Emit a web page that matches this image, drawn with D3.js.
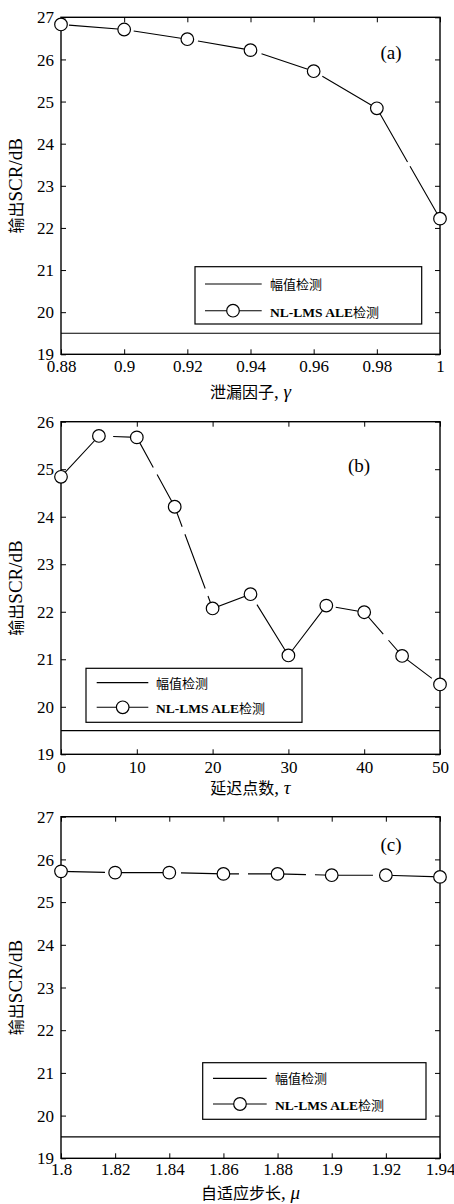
<!DOCTYPE html>
<html>
<head>
<meta charset="utf-8">
<script src="https://cdn.jsdelivr.net/npm/d3@7"></script>
<style>
  html, body { margin: 0; padding: 0; background: #fff; }
  svg { display: block; }
</style>
</head>
<body>
<svg id="chart" width="454" height="1204"></svg>
<script>
// (a) output SCR versus leakage factor
const leakFactor = [0.88, 0.90, 0.92, 0.94, 0.96, 0.98, 1.00];
const leakSCR = [26.83, 26.71, 26.48, 26.22, 25.72, 24.84, 22.22];
const leakTicks = [0.88, 0.90, 0.92, 0.94, 0.96, 0.98, 1.00];
const leakTickLabels = ["0.88", "0.9", "0.92", "0.94", "0.96", "0.98", "1"];

// (b) output SCR versus delay length
const delayPoints = [0, 5, 10, 15, 20, 25, 30, 35, 40, 45, 50];
const delaySCR = [24.84, 25.70, 25.67, 24.21, 22.07, 22.37, 21.08, 22.13, 21.99, 21.07, 20.47];
const delayTicks = [0, 10, 20, 30, 40, 50];
const delayTickLabels = ["0", "10", "20", "30", "40", "50"];

// (c) output SCR versus adaptive step size
const stepSize = [1.80, 1.82, 1.84, 1.86, 1.88, 1.90, 1.92, 1.94];
const stepSCR = [25.72, 25.69, 25.69, 25.66, 25.66, 25.63, 25.63, 25.59];
const stepTicks = [1.80, 1.82, 1.84, 1.86, 1.88, 1.90, 1.92, 1.94];
const stepTickLabels = ["1.8", "1.82", "1.84", "1.86", "1.88", "1.9", "1.92", "1.94"];

// amplitude-detection reference level (same in all three panels)
const amplitudeSCR = [19.5, 19.5, 19.5];

const yTicksA = [19, 20, 21, 22, 23, 24, 25, 26, 27];
const yTicksB = [19, 20, 21, 22, 23, 24, 25, 26];
const yTicksC = [19, 20, 21, 22, 23, 24, 25, 26, 27];

const seriesNames = ["幅值检测", "NL-LMS ALE检测"];
const yTitle = [{t: "输出", cjk: true}, {t: "SCR/dB"}];
const xTitles = [
  [{t: "泄漏因子", cjk: true}, {t: ", "}, {t: "γ", it: true}],
  [{t: "延迟点数", cjk: true}, {t: ", "}, {t: "τ", it: true}],
  [{t: "自适应步长", cjk: true}, {t: ", "}, {t: "μ", it: true}]
];
const panelTags = ["(a)", "(b)", "(c)"];

const LATIN = "'Liberation Serif', 'Times New Roman', serif";
const CJK = "'Noto Sans CJK SC', sans-serif";

const svg = d3.select("#chart");
const left = 61, right = 440;

const panels = [
  {
    top: 17.3, bottom: 354.3, xs: leakFactor, ys: leakSCR, xDomain: [0.88, 1.0], yDomain: [19, 27],
    xTicks: leakTicks, xLabels: leakTickLabels, yTicks: yTicksA, base: amplitudeSCR[0],
    title: xTitles[0], tag: panelTags[0], tagPos: [391, 59], titleY: 398, tickY: 372.5,
    legend: {x: 195, y: 266.7, w: 226.7, h: 57.3, r1: 284, r2: 310.7, s0: 205, s1: 261.7, m: 233, tx: 270},
    dash: {array: "60,5", offset: 57}
  },
  {
    top: 421.7, bottom: 754.3, xs: delayPoints, ys: delaySCR, xDomain: [0, 50], yDomain: [19, 26],
    xTicks: delayTicks, xLabels: delayTickLabels, yTicks: yTicksB, base: amplitudeSCR[1],
    title: xTitles[1], tag: panelTags[1], tagPos: [359, 472], titleY: 794, tickY: 773,
    legend: {x: 86, y: 668.3, w: 216, h: 54, r1: 682.7, r2: 707.3, s0: 96.7, s1: 148.3, m: 122.7, tx: 156},
    dash: {array: "58,8", offset: 62}
  },
  {
    top: 816.7, bottom: 1158.3, xs: stepSize, ys: stepSCR, xDomain: [1.8, 1.94], yDomain: [19, 27],
    xTicks: stepTicks, xLabels: stepTickLabels, yTicks: yTicksC, base: amplitudeSCR[2],
    title: xTitles[2], tag: panelTags[2], tagPos: [391, 851], titleY: 1199, tickY: 1175,
    legend: {x: 202.7, y: 1062.7, w: 223.3, h: 56.6, r1: 1078.3, r2: 1104, s0: 213, s1: 266.7, m: 240, tx: 275},
    dash: {array: "58,9", offset: 14}
  }
];

// write mixed CJK / Latin text as separate runs so each script gets its own face and size
function writeRuns(sel, runs, latinSize, cjkSize) {
  runs.forEach(r => {
    const ts = sel.append("tspan").text(r.t);
    if (r.cjk) {
      ts.attr("font-family", CJK).attr("font-size", cjkSize);
    } else {
      ts.attr("font-family", LATIN).attr("font-size", latinSize);
      if (r.it) ts.attr("font-style", "italic");
    }
  });
}

panels.forEach(p => {
  const g = svg.append("g");
  const x = d3.scaleLinear().domain(p.xDomain).range([left, right]);
  const y = d3.scaleLinear().domain(p.yDomain).range([p.bottom, p.top]);

  // inward ticks on all four sides
  const tick = 5;
  const bottomAxis = g.append("g").attr("transform", `translate(0,${p.bottom})`)
    .call(d3.axisBottom(x).tickValues(p.xTicks).tickSize(-tick)
      .tickFormat((d, i) => p.xLabels[i]));
  bottomAxis.selectAll("text")
    .attr("y", p.tickY - p.bottom).attr("dy", null)
    .attr("font-family", LATIN).attr("font-size", 17).attr("fill", "#000");

  g.append("g").attr("transform", `translate(0,${p.top})`)
    .call(d3.axisTop(x).tickValues(p.xTicks).tickSize(-tick).tickFormat(""));

  const leftAxis = g.append("g").attr("transform", `translate(${left},0)`)
    .call(d3.axisLeft(y).tickValues(p.yTicks).tickSize(-tick).tickFormat(d3.format("d")));
  leftAxis.selectAll("text")
    .attr("x", -7).attr("dy", "0.33em")
    .attr("font-family", LATIN).attr("font-size", 17).attr("fill", "#000");

  g.append("g").attr("transform", `translate(${right},0)`)
    .call(d3.axisRight(y).tickValues(p.yTicks).tickSize(-tick).tickFormat(""));

  g.selectAll(".domain").remove();
  g.selectAll(".tick line").attr("stroke", "#000").attr("stroke-width", 1);

  // frame
  g.append("rect")
    .attr("x", left).attr("y", p.top)
    .attr("width", right - left).attr("height", p.bottom - p.top)
    .attr("fill", "none").attr("stroke", "#000").attr("stroke-width", 1.4);

  // amplitude-detection level
  const baseLine = d3.line().x(d => x(d[0])).y(d => y(d[1]));
  g.append("path")
    .datum([[p.xDomain[0], p.base], [p.xDomain[1], p.base]])
    .attr("d", baseLine)
    .attr("fill", "none").attr("stroke", "#000").attr("stroke-width", 1.2);

  // NL-LMS ALE series
  const pts = p.xs.map((v, i) => [v, p.ys[i]]);
  const seriesLine = d3.line().x(d => x(d[0])).y(d => y(d[1]));
  g.append("path")
    .datum(pts)
    .attr("d", seriesLine)
    .attr("fill", "none").attr("stroke", "#000").attr("stroke-width", 1.1)
    .attr("stroke-dasharray", p.dash.array).attr("stroke-dashoffset", p.dash.offset);
  g.selectAll("circle.mk").data(pts).join("circle")
    .attr("class", "mk")
    .attr("cx", d => x(d[0])).attr("cy", d => y(d[1])).attr("r", 6.3)
    .attr("fill", "#fff").attr("stroke", "#000").attr("stroke-width", 1.2);

  // panel tag
  g.append("text")
    .attr("x", p.tagPos[0]).attr("y", p.tagPos[1])
    .attr("text-anchor", "middle")
    .attr("font-family", LATIN).attr("font-size", 19)
    .text(p.tag);

  // axis titles
  const xt = g.append("text")
    .attr("x", (left + right) / 2).attr("y", p.titleY)
    .attr("text-anchor", "middle");
  writeRuns(xt, p.title, 19, 16);

  const yt = g.append("text")
    .attr("transform", `translate(22,${(p.top + p.bottom) / 2}) rotate(-90)`)
    .attr("text-anchor", "middle");
  writeRuns(yt, yTitle, 19, 16);

  // legend
  const L = p.legend;
  const lg = g.append("g");
  lg.append("rect")
    .attr("x", L.x).attr("y", L.y).attr("width", L.w).attr("height", L.h)
    .attr("fill", "#fff").attr("stroke", "#000").attr("stroke-width", 1.2);
  lg.append("line")
    .attr("x1", L.s0).attr("x2", L.s1).attr("y1", L.r1).attr("y2", L.r1)
    .attr("stroke", "#000").attr("stroke-width", 1.2);
  lg.append("line")
    .attr("x1", L.s0).attr("x2", L.s1).attr("y1", L.r2).attr("y2", L.r2)
    .attr("stroke", "#000").attr("stroke-width", 1.1);
  lg.append("circle")
    .attr("cx", L.m).attr("cy", L.r2).attr("r", 6.3)
    .attr("fill", "#fff").attr("stroke", "#000").attr("stroke-width", 1.2);
  lg.append("text")
    .attr("x", L.tx).attr("y", L.r1).attr("dy", "0.38em")
    .attr("font-family", CJK).attr("font-size", 13)
    .text(seriesNames[0]);
  const t2 = lg.append("text")
    .attr("x", L.tx).attr("y", L.r2).attr("dy", "0.38em");
  t2.append("tspan").text("NL-LMS ALE")
    .attr("font-family", LATIN).attr("font-size", 13.5).attr("font-weight", "bold");
  t2.append("tspan").text("检测")
    .attr("font-family", CJK).attr("font-size", 13);
});
</script>
</body>
</html>
